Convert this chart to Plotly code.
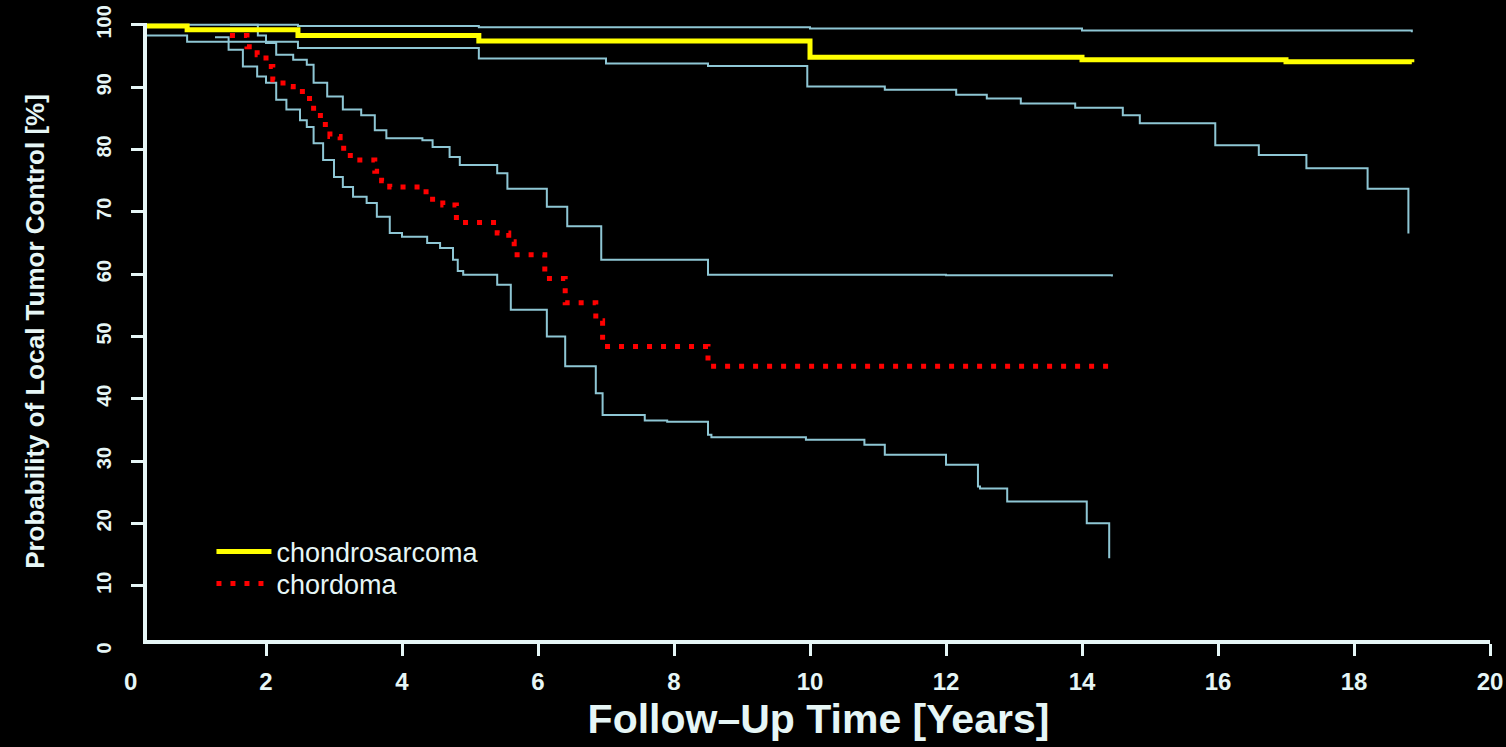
import plotly.graph_objects as go

# ---- data ----
chondro_x = [0.25, 0.84, 2.47, 5.13, 10.0, 14.0, 17.0, 18.85]
chondro_y = [99.8, 99.2, 98.3, 97.4, 94.8, 94.4, 94.1, 94.0]

chondro_hi_x = [0.25, 2.47, 5.13, 10.0, 14.0, 18.85]
chondro_hi_y = [100.0, 99.8, 99.6, 99.4, 99.1, 98.8]

chondro_lo_x = [0.25, 0.84, 2.47, 5.13, 7.0, 8.5, 9.96, 11.1, 12.15, 12.6, 13.1,
                13.9, 14.6, 14.85, 15.96, 16.6, 17.3, 18.2, 18.8]
chondro_lo_y = [98.3, 97.3, 96.3, 94.6, 93.8, 93.4, 90.1, 89.6, 88.8, 88.2, 87.4,
                86.7, 85.5, 84.2, 80.7, 79.1, 77.0, 73.7, 66.5]

chordoma_x = [1.47, 1.72, 1.87, 2.0, 2.1, 2.25, 2.4, 2.6, 2.7, 2.8, 2.94, 3.09,
              3.24, 3.6, 3.7, 3.82, 4.3, 4.45, 4.6, 4.8, 5.4, 5.57, 5.65, 6.1,
              6.4, 6.85, 6.95, 8.5, 14.44]
chordoma_y = [98.3, 96.5, 95.2, 93.3, 91.2, 90.1, 89.3, 88.2, 85.9, 84.0, 82.1, 80.2,
              78.3, 76.5, 75.0, 74.0, 73.2, 72.0, 71.1, 68.3, 66.6, 65.2, 63.1, 59.3,
              55.4, 52.5, 48.4, 45.2, 45.2]

chordoma_hi_x = [1.47, 1.88, 2.0, 2.15, 2.4, 2.6, 2.7, 2.9, 3.13, 3.4, 3.6, 3.77,
                 4.3, 4.45, 4.7, 4.85, 5.4, 5.55, 6.13, 6.43, 6.93, 8.5, 12.0, 14.44]
chordoma_hi_y = [100.0, 98.3, 97.1, 95.2, 94.4, 93.6, 90.7, 88.5, 86.4, 85.5, 83.1, 81.8,
                 81.5, 80.4, 78.8, 77.5, 76.2, 73.7, 70.8, 67.7, 62.3, 59.9, 59.8, 59.6]

chordoma_lo_x = [1.25, 1.45, 1.66, 1.87, 2.0, 2.15, 2.3, 2.5, 2.6, 2.7, 2.84, 3.0,
                 3.13, 3.28, 3.48, 3.63, 3.82, 4.0, 4.37, 4.56, 4.75, 4.82, 4.9, 5.4,
                 5.6, 6.13, 6.4, 6.85, 6.95, 7.57, 7.9, 8.5, 8.55, 9.94, 10.8, 11.1,
                 12.0, 12.47, 12.5, 12.9, 14.07, 14.4]
chordoma_lo_y = [98.0, 96.0, 93.3, 91.7, 90.7, 88.0, 86.4, 84.7, 83.6, 81.0, 78.3, 75.6,
                 74.0, 72.4, 71.4, 69.2, 66.6, 66.0, 65.0, 64.2, 62.3, 60.5, 59.9, 58.3,
                 54.3, 50.0, 45.2, 40.9, 37.4, 36.5, 36.3, 34.2, 33.8, 33.4, 32.6, 31.0,
                 29.4, 25.9, 25.6, 23.5, 20.0, 14.4]

x_ticks = [2, 4, 6, 8, 10, 12, 14, 16, 18, 20]
y_ticks = [10, 20, 30, 40, 50, 60, 70, 80, 90, 100]
x_range = [0.25, 20.0]
y_range = [1.28, 100.3]

AX = "#e6f6f6"
CI = "#8ec6d4"
FONT = "Liberation Sans"

fig = go.Figure()
for xs, ys in [(chondro_hi_x, chondro_hi_y), (chondro_lo_x, chondro_lo_y),
               (chordoma_hi_x, chordoma_hi_y), (chordoma_lo_x, chordoma_lo_y)]:
    fig.add_trace(go.Scatter(x=xs, y=ys, mode="lines", line=dict(color=CI, width=2, shape="hv"),
                             showlegend=False, hoverinfo="skip", cliponaxis=False))

fig.add_trace(go.Scatter(x=chondro_x, y=chondro_y, mode="lines", name="chondrosarcoma",
                         line=dict(color="#ffff00", width=5, shape="hv"), cliponaxis=False,
                         legend="legend"))
fig.add_trace(go.Scatter(x=chordoma_x, y=chordoma_y, mode="lines", name="chordoma",
                         line=dict(color="#ff0000", width=5, shape="hv", dash="5px,9px"),
                         cliponaxis=False, legend="legend2"))

# "0" labels at the origin values, which lie just outside the drawn axes
x0_frac = (0 - x_range[0]) / (x_range[1] - x_range[0])
y0_frac = (0 - y_range[0]) / (y_range[1] - y_range[0])
fig.add_annotation(x=x0_frac, y=0, xref="paper", yref="paper", text="0", showarrow=False,
                   yanchor="top", xshift=-8, yshift=-26,
                   font=dict(family=FONT, size=24, color=AX, weight="bold"))
fig.add_annotation(x=0, y=y0_frac, xref="paper", yref="paper", text="0", showarrow=False,
                   xanchor="right", xshift=-30, yshift=-8, textangle=-90,
                   font=dict(family=FONT, size=20, color=AX, weight="bold"))

leg_common = dict(xanchor="left", yanchor="middle", bgcolor="rgba(0,0,0,0)",
                  font=dict(family=FONT, size=27, color=AX), itemwidth=55)

fig.update_layout(
    template="none",
    width=1506, height=747,
    paper_bgcolor="black", plot_bgcolor="black",
    margin=dict(l=147, r=16, t=23, b=107),
    font=dict(family=FONT, color=AX),
    showlegend=True,
    legend=dict(x=0.048, y=(640 - 552) / 617, **leg_common),
    legend2=dict(x=0.048, y=(640 - 584) / 617, **leg_common),
    xaxis=dict(range=x_range, tickvals=x_ticks, showgrid=False, zeroline=False, automargin=False,
               showline=True, linecolor=AX, linewidth=4, ticks="outside", ticklen=12,
               tickwidth=3, tickcolor=AX,
               tickfont=dict(family=FONT, size=24, color=AX, weight="bold"),
               ticklabelstandoff=5,
               title=dict(text="Follow\u2013Up Time [Years]", standoff=12,
                          font=dict(family=FONT, size=41, color=AX, weight="bold"))),
    yaxis=dict(range=y_range, tickvals=y_ticks, showgrid=False, zeroline=False, automargin=False,
               showline=True, linecolor=AX, linewidth=4, ticks="outside", ticklen=12,
               tickwidth=3, tickcolor=AX, tickangle=-90,
               tickfont=dict(family=FONT, size=20, color=AX, weight="bold"),
               ticklabelstandoff=12,
               title=dict(text="Probability of Local Tumor Control [%]", standoff=42,
                          font=dict(family=FONT, size=26, color=AX, weight="bold"))),
)

fig.write_html("out.html", config={"displayModeBar": False}, post_script=(
    "document.body.style.margin='0';document.body.style.background='black';"
    "document.body.style.overflow='hidden';"))
